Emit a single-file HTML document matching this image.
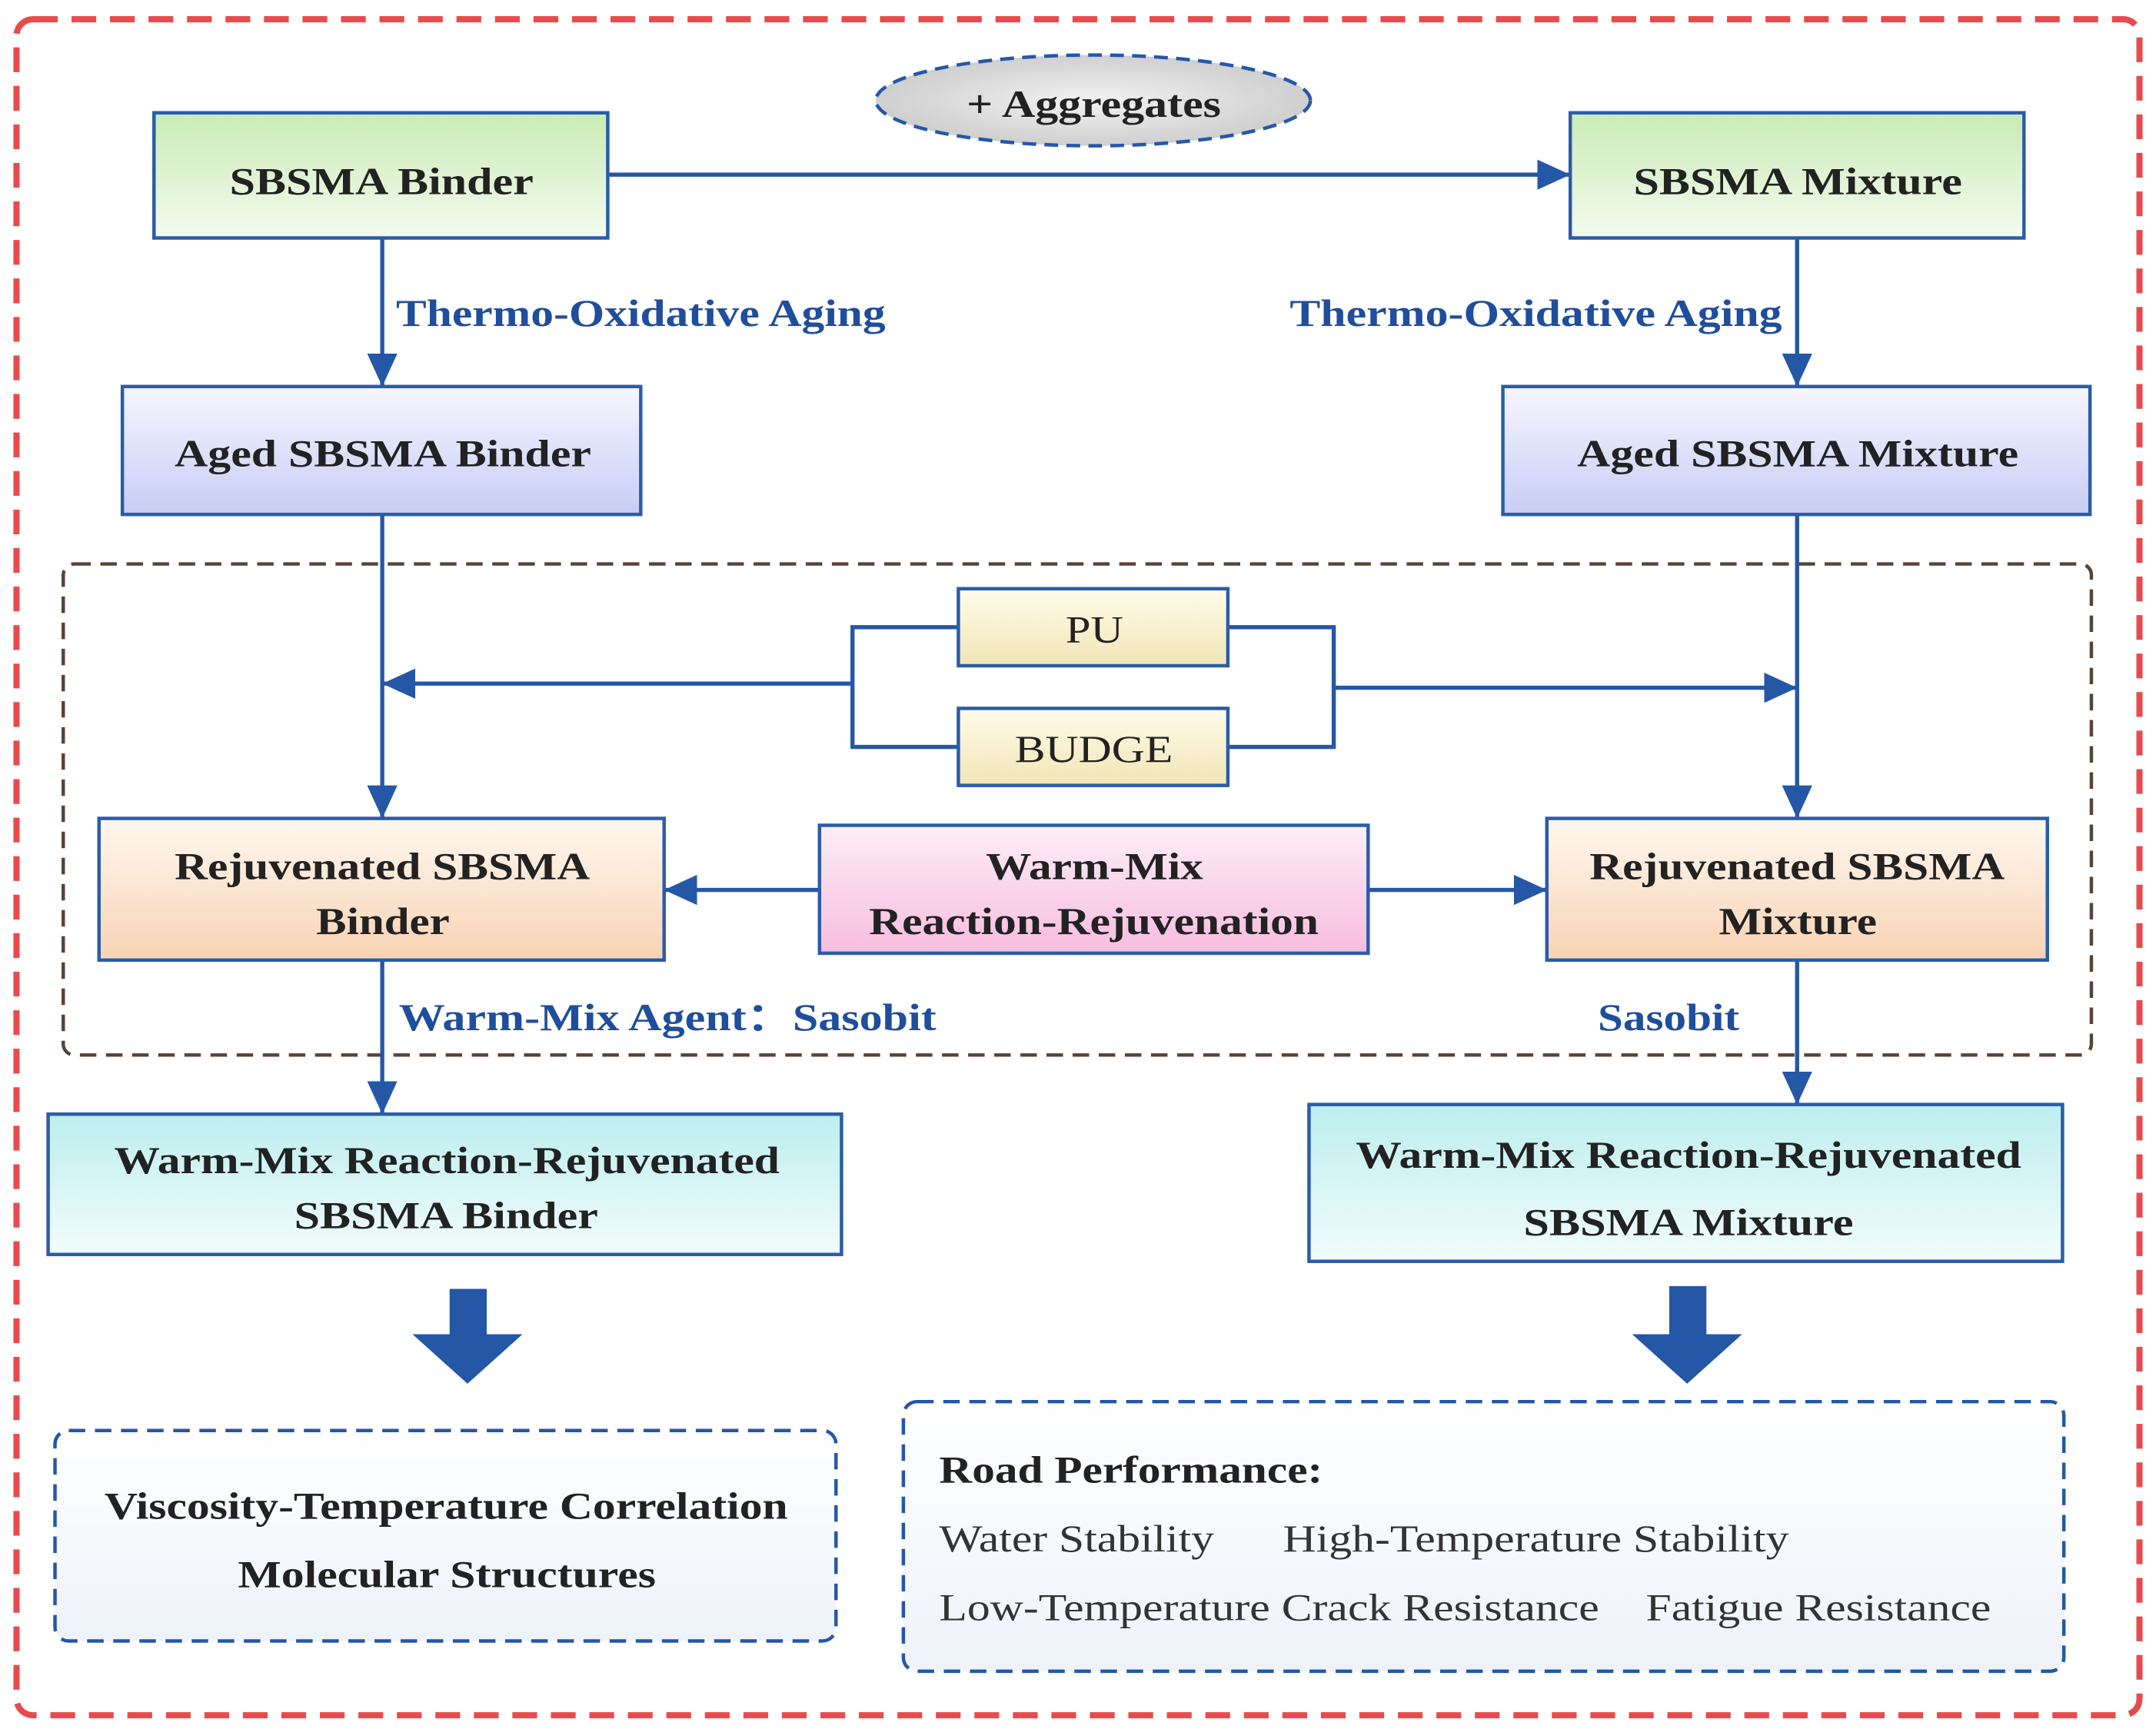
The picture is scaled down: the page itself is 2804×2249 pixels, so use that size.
<!DOCTYPE html>
<html><head><meta charset="utf-8"><style>html,body{margin:0;padding:0;background:#fff}svg{display:block}</style></head>
<body>
<svg width="2804" height="2249" viewBox="0 0 1568 1257" preserveAspectRatio="none" xmlns="http://www.w3.org/2000/svg" font-family="Liberation Serif, serif">
<defs>
<linearGradient id="g" x1="0" y1="0" x2="0" y2="1"><stop offset="0" stop-color="#c9ebb5"/><stop offset="1" stop-color="#f4fbef"/></linearGradient>
<linearGradient id="b" x1="0" y1="0" x2="0" y2="1"><stop offset="0" stop-color="#f6f6ff"/><stop offset="1" stop-color="#c8cdf5"/></linearGradient>
<linearGradient id="y" x1="0" y1="0" x2="0" y2="1"><stop offset="0" stop-color="#fffbea"/><stop offset="1" stop-color="#f1e6b6"/></linearGradient>
<linearGradient id="o" x1="0" y1="0" x2="0" y2="1"><stop offset="0" stop-color="#fff8f0"/><stop offset="1" stop-color="#f8d3b4"/></linearGradient>
<linearGradient id="p" x1="0" y1="0" x2="0" y2="1"><stop offset="0" stop-color="#fdeef6"/><stop offset="1" stop-color="#f7bde0"/></linearGradient>
<linearGradient id="c" x1="0" y1="0" x2="0" y2="1"><stop offset="0" stop-color="#bdeeee"/><stop offset="1" stop-color="#f2fcfc"/></linearGradient>
<linearGradient id="w" x1="0" y1="0" x2="0" y2="1"><stop offset="0" stop-color="#ffffff"/><stop offset="1" stop-color="#eef3fa"/></linearGradient>
<radialGradient id="e"><stop offset="0" stop-color="#f2f2f2"/><stop offset="1" stop-color="#cfcfcf"/></radialGradient>
<marker id="a2" markerWidth="24" markerHeight="22" refX="24" refY="11" orient="auto" markerUnits="userSpaceOnUse" viewBox="0 0 24 22"><path d="M0,0 L24,11 L0,22z" fill="#2557a7"/></marker>
</defs>
<rect x="12" y="14" width="1544" height="1233" rx="12" fill="none" stroke="#e84b4b" stroke-width="4.5" stroke-dasharray="18 10"/>
<rect x="46" y="410" width="1475" height="357" rx="8" fill="none" stroke="#5b4236" stroke-width="2.5" stroke-dasharray="12 7"/>
<g stroke="#2557a7" stroke-width="3" fill="none">
<line x1="442" y1="127" x2="1142" y2="127" marker-end="url(#a2)"/>
<line x1="278" y1="173" x2="278" y2="281" marker-end="url(#a2)"/>
<line x1="1307" y1="173" x2="1307" y2="281" marker-end="url(#a2)"/>
<line x1="278" y1="374" x2="278" y2="595" marker-end="url(#a2)"/>
<line x1="1307" y1="374" x2="1307" y2="595" marker-end="url(#a2)"/>
<line x1="278" y1="698" x2="278" y2="810" marker-end="url(#a2)"/>
<line x1="1307" y1="698" x2="1307" y2="803" marker-end="url(#a2)"/>
<polyline points="697,456 620,456 620,543 697,543"/>
<line x1="620" y1="497" x2="278" y2="497" marker-end="url(#a2)"/>
<polyline points="893,456 970,456 970,543 893,543"/>
<line x1="970" y1="500" x2="1307" y2="500" marker-end="url(#a2)"/>
<line x1="596" y1="647" x2="483" y2="647" marker-end="url(#a2)"/>
<line x1="995" y1="647" x2="1125" y2="647" marker-end="url(#a2)"/>
</g>
<ellipse cx="795" cy="73" rx="158" ry="33" fill="url(#e)" stroke="#2557a7" stroke-width="2.5" stroke-dasharray="10 6"/>
<g stroke="#2a5caa" stroke-width="2.5">
<rect x="112" y="82" width="330" height="91" fill="url(#g)"/>
<rect x="1142" y="82" width="330" height="91" fill="url(#g)"/>
<rect x="89" y="281" width="377" height="93" fill="url(#b)"/>
<rect x="1093" y="281" width="427" height="93" fill="url(#b)"/>
<rect x="697" y="428" width="196" height="56" fill="url(#y)"/>
<rect x="697" y="515" width="196" height="56" fill="url(#y)"/>
<rect x="72" y="595" width="411" height="103" fill="url(#o)"/>
<rect x="596" y="600" width="399" height="93" fill="url(#p)"/>
<rect x="1125" y="595" width="364" height="103" fill="url(#o)"/>
<rect x="35" y="810" width="577" height="102" fill="url(#c)"/>
<rect x="952" y="803" width="548" height="114" fill="url(#c)"/>
</g>
<rect x="40" y="1040" width="568" height="153" rx="10" fill="url(#w)" stroke="#2557a7" stroke-width="2.5" stroke-dasharray="12 7"/>
<rect x="657" y="1019" width="844" height="196" rx="10" fill="url(#w)" stroke="#2557a7" stroke-width="2.5" stroke-dasharray="12 7"/>
<path d="M327,937 h27 v33 h26 l-40,36 l-40,-36 h27z" fill="#2557a7"/>
<path d="M1214,935 h27 v35 h26 l-40,36 l-40,-36 h27z" fill="#2557a7"/>
<g font-weight="bold" font-size="28" fill="#222" lengthAdjust="spacingAndGlyphs">
<text x="703" y="85" textLength="185" lengthAdjust="spacingAndGlyphs">+ Aggregates</text>
<text x="167" y="141" textLength="221" lengthAdjust="spacingAndGlyphs">SBSMA Binder</text>
<text x="1188" y="141" textLength="239" lengthAdjust="spacingAndGlyphs">SBSMA Mixture</text>
<text x="127" y="339" textLength="303" lengthAdjust="spacingAndGlyphs">Aged SBSMA Binder</text>
<text x="1147" y="339" textLength="321" lengthAdjust="spacingAndGlyphs">Aged SBSMA Mixture</text>
<text x="127" y="639" textLength="302" lengthAdjust="spacingAndGlyphs">Rejuvenated SBSMA</text>
<text x="230" y="679" textLength="97" lengthAdjust="spacingAndGlyphs">Binder</text>
<text x="717" y="639" textLength="158" lengthAdjust="spacingAndGlyphs">Warm-Mix</text>
<text x="632" y="679" textLength="327" lengthAdjust="spacingAndGlyphs">Reaction-Rejuvenation</text>
<text x="1156" y="639" textLength="302" lengthAdjust="spacingAndGlyphs">Rejuvenated SBSMA</text>
<text x="1250" y="679" textLength="115" lengthAdjust="spacingAndGlyphs">Mixture</text>
<text x="83" y="853" textLength="484" lengthAdjust="spacingAndGlyphs">Warm-Mix Reaction-Rejuvenated</text>
<text x="214" y="893" textLength="221" lengthAdjust="spacingAndGlyphs">SBSMA Binder</text>
<text x="986" y="849" textLength="484" lengthAdjust="spacingAndGlyphs">Warm-Mix Reaction-Rejuvenated</text>
<text x="1108" y="898" textLength="240" lengthAdjust="spacingAndGlyphs">SBSMA Mixture</text>
<text x="76" y="1104" textLength="497" lengthAdjust="spacingAndGlyphs">Viscosity-Temperature Correlation</text>
<text x="173" y="1154" textLength="304" lengthAdjust="spacingAndGlyphs">Molecular Structures</text>
<text x="683" y="1078" textLength="279" lengthAdjust="spacingAndGlyphs">Road Performance:</text>
</g>
<g font-size="28" fill="#222">
<text x="775" y="467" textLength="42" lengthAdjust="spacingAndGlyphs">PU</text>
<text x="738" y="554" textLength="115" lengthAdjust="spacingAndGlyphs">BUDGE</text>
</g>
<g font-weight="bold" font-size="28" fill="#1f4e9c">
<text x="288" y="237" textLength="356" lengthAdjust="spacingAndGlyphs">Thermo-Oxidative Aging</text>
<text x="938" y="237" textLength="358" lengthAdjust="spacingAndGlyphs">Thermo-Oxidative Aging</text>
<text x="290" y="749" textLength="391" lengthAdjust="spacingAndGlyphs">Warm-Mix Agent：Sasobit</text>
<text x="1162" y="749" textLength="103" lengthAdjust="spacingAndGlyphs">Sasobit</text>
</g>
<g font-size="28" fill="#333">
<text x="683" y="1128" textLength="200" lengthAdjust="spacingAndGlyphs">Water Stability</text>
<text x="933" y="1128" textLength="368" lengthAdjust="spacingAndGlyphs">High-Temperature Stability</text>
<text x="683" y="1178" textLength="480" lengthAdjust="spacingAndGlyphs">Low-Temperature Crack Resistance</text>
<text x="1197" y="1178" textLength="251" lengthAdjust="spacingAndGlyphs">Fatigue Resistance</text>
</g>
</svg>
</body></html>
